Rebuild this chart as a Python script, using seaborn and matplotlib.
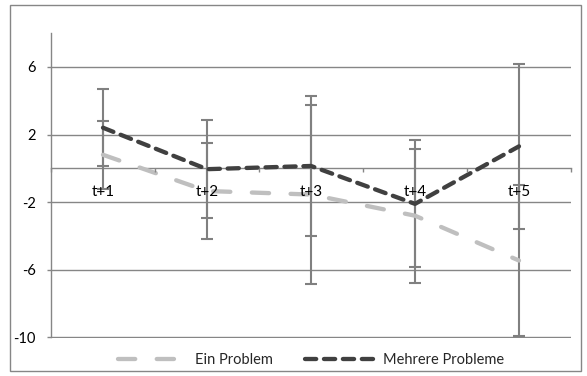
import numpy as np
import pandas as pd
import matplotlib
matplotlib.use("Agg")
import matplotlib.pyplot as plt
from matplotlib.patches import Rectangle
import seaborn as sns

categories = ["t+1", "t+2", "t+3", "t+4", "t+5"]
series_names = ["Ein Problem", "Mehrere Probleme"]
ein_problem = [0.8, -1.34, -1.55, -2.8, -5.45]
ein_problem_err = [2.0, 2.82, 5.27, 3.96, 4.44]
mehrere_probleme = [2.4, -0.05, 0.14, -2.1, 1.3]
mehrere_probleme_err = [2.27, 2.9, 4.13, 3.76, 4.88]
y_ticks = [-10, -6, -2, 2, 6]
y_tick_labels = ["-10", "-6", "-2", "2", "6"]

sns.set_theme(style="white")
plt.rcParams['font.family'] = ['Lato', 'DejaVu Sans']
plt.rcParams['axes.unicode_minus'] = False
plt.rcParams['lines.dash_capstyle'] = 'round'

grid_c = "#868686"
err_c = "#808080"
light_c = "#BFBFBF"
dark_c = "#404040"
fs = 10.5

df = pd.DataFrame({
    "x": list(range(len(categories))) * 2,
    "wert": ein_problem + mehrere_probleme,
    "serie": [series_names[0]] * len(categories) + [series_names[1]] * len(categories),
})

fig = plt.figure(figsize=(5.87, 3.76), dpi=100)
ax = fig.add_axes([51 / 587, 1 - 337.5 / 376, 520 / 587, 304.5 / 376])

x = np.arange(len(categories))
for vals, errs in [(ein_problem, ein_problem_err), (mehrere_probleme, mehrere_probleme_err)]:
    ax.errorbar(x, vals, yerr=errs, fmt='none', ecolor=err_c, elinewidth=1.5,
                capsize=4.3, capthick=1.5, zorder=3)

sns.lineplot(data=df, x="x", y="wert", hue="serie", style="serie",
             palette={series_names[0]: light_c, series_names[1]: dark_c},
             dashes={series_names[0]: (4, 5.0), series_names[1]: (2.6, 1.8)},
             linewidth=3.1, ax=ax, zorder=4)

ax.set_xlim(-0.5, 4.5)
ax.set_ylim(-10, 8)
ax.set_xticks(x)
ax.set_xticklabels(categories)
ax.set_xticks(np.arange(-0.5, len(categories), 1), minor=True)
ax.tick_params(axis='x', which='major', length=0, pad=12, labelsize=11, labelcolor='black')
ax.tick_params(axis='x', which='minor', length=3, width=1, color=grid_c, direction='out', bottom=True)
ax.spines['bottom'].set_position(('data', 0))
ax.set_yticks(y_ticks)
ax.set_yticklabels(y_tick_labels)
ax.tick_params(axis='y', length=3, width=1, color=grid_c, pad=8, direction='out', left=True,
               labelsize=fs, labelcolor='black')
ax.yaxis.grid(True, color=grid_c, lw=1)
ax.xaxis.grid(False)
ax.set_axisbelow(True)
ax.xaxis.set_zorder(5)
for s in ['top', 'right']:
    ax.spines[s].set_visible(False)
for s in ['left', 'bottom']:
    ax.spines[s].set_color(grid_c)
    ax.spines[s].set_linewidth(1)
    ax.spines[s].set_zorder(2)
ax.set_xlabel("")
ax.set_ylabel("")

sns.move_legend(ax, "center", bbox_to_anchor=(311 / 587, 1 - 360 / 376), bbox_transform=fig.transFigure,
                ncol=2, frameon=False, title=None, fontsize=fs, handlelength=4.9,
                handletextpad=0.4, columnspacing=2.2)

fig.patches.append(Rectangle((10 / 587, 5 / 376), 571 / 587, 366 / 376, transform=fig.transFigure,
                             fill=False, edgecolor=grid_c, lw=1))

fig.savefig("out.png", dpi=100)
